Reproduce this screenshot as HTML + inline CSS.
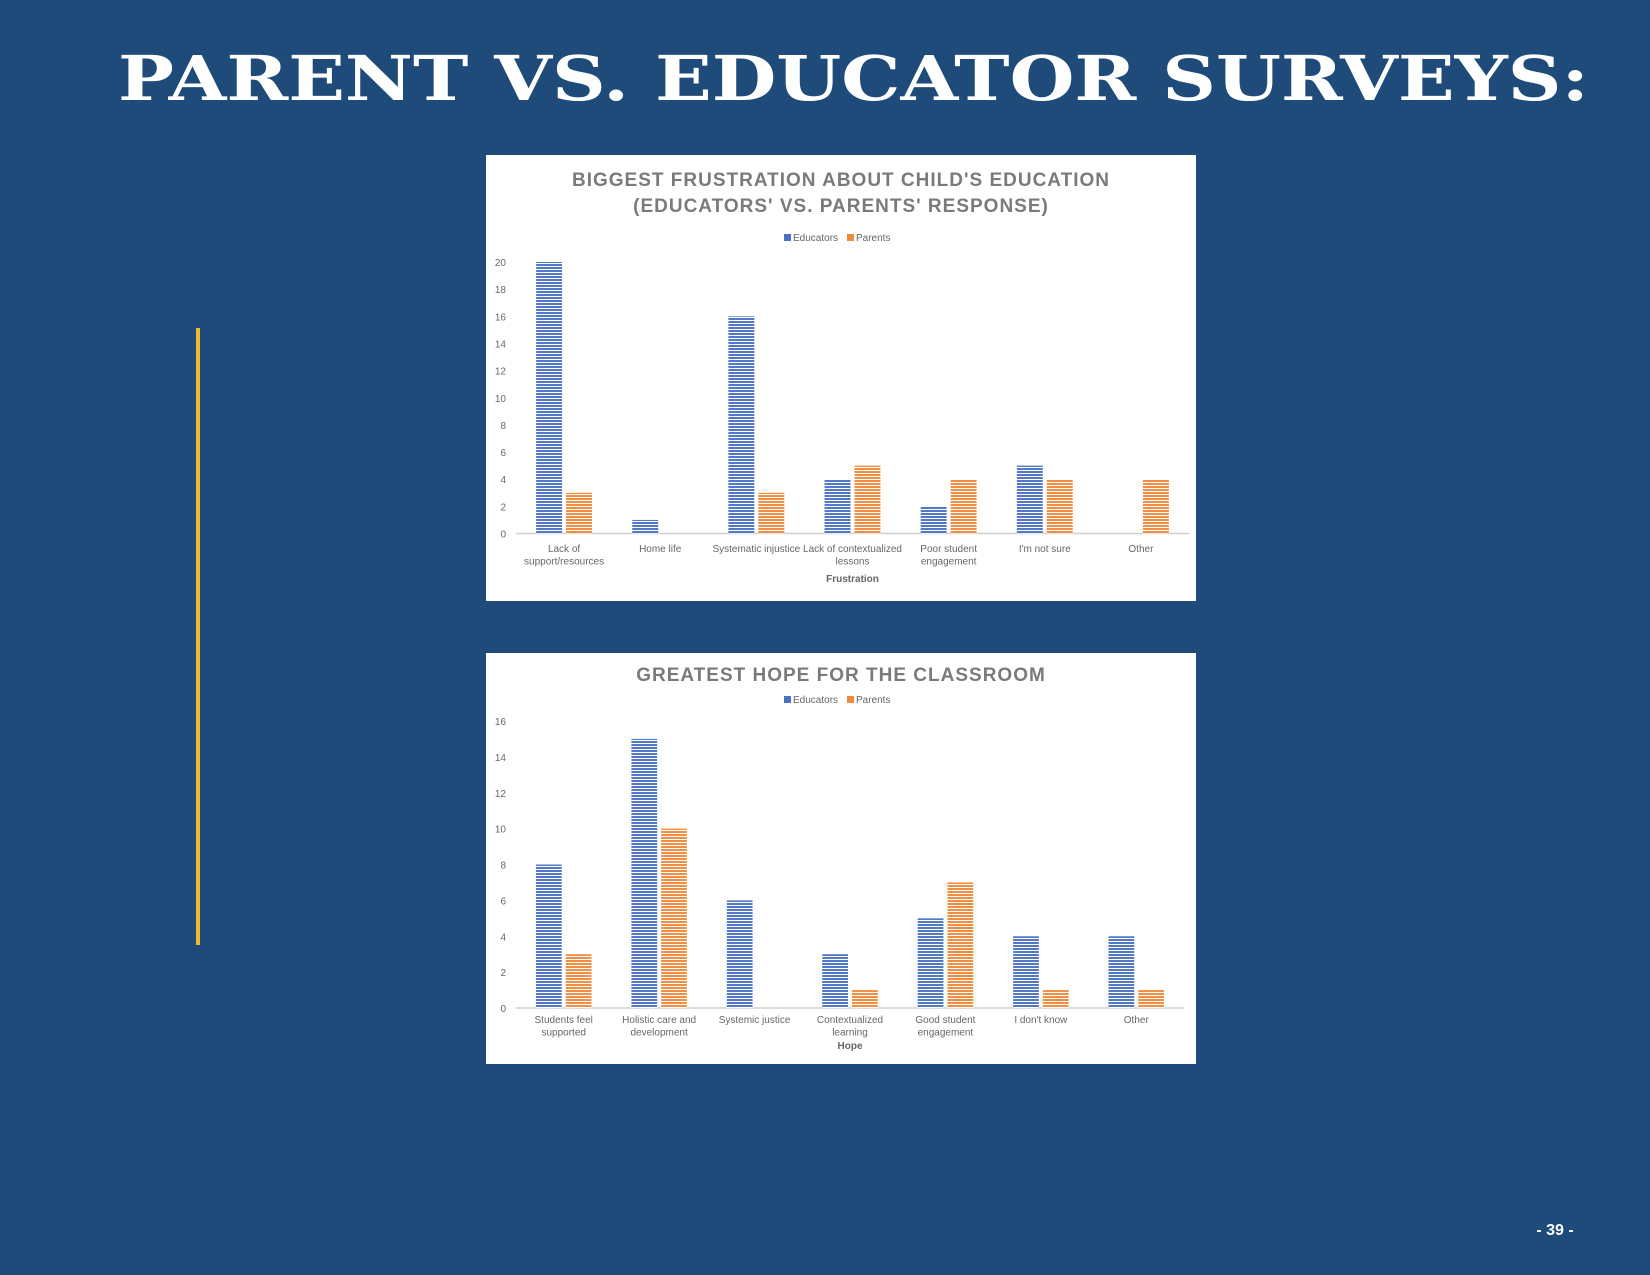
<!DOCTYPE html>
<html><head><meta charset="utf-8"><style>
html,body{margin:0;padding:0;background:#1e4b79;}
svg{display:block;font-family:"Liberation Sans",sans-serif;}
</style></head><body>
<svg id="page" width="1650" height="1275" viewBox="0 0 1650 1275">
<defs>
<pattern id="pb" width="6" height="3" patternUnits="userSpaceOnUse"><rect width="6" height="3" fill="#ffffff"/><rect width="6" height="2" fill="#5479c4"/></pattern>
<pattern id="po" width="6" height="3" patternUnits="userSpaceOnUse"><rect width="6" height="3" fill="#ffffff"/><rect width="6" height="2" fill="#ef8e44"/></pattern>
</defs>
<rect width="1650" height="1275" fill="#1e4b79"/>
<text x="118" y="100" textLength="1471" lengthAdjust="spacingAndGlyphs" fill="#fff" font-family="'DejaVu Serif',serif" font-weight="bold" font-size="62">PARENT VS. EDUCATOR SURVEYS:</text>
<rect x="196" y="328" width="4" height="617" fill="#f5b731"/>
<text x="1555" y="1235" text-anchor="middle" fill="#fff" font-weight="bold" font-size="16">- 39 -</text>
<g id="c1"></g>
<g id="c2"></g>
</svg>
<script>
const cats1 = [["Lack of","support/resources"],["Home life"],["Systematic injustice"],["Lack of contextualized","lessons"],["Poor student","engagement"],["I'm not sure"],["Other"]];
const edu1 = [20,1,16,4,2,5,0];
const par1 = [3,0,3,5,4,4,4];
const ticks1 = [0,2,4,6,8,10,12,14,16,18,20];
const cats2 = [["Students feel","supported"],["Holistic care and","development"],["Systemic justice"],["Contextualized","learning"],["Good student","engagement"],["I don't know"],["Other"]];
const edu2 = [8,15,6,3,5,4,4];
const par2 = [3,10,0,1,7,1,1];
const ticks2 = [0,2,4,6,8,10,12,14,16];
const NS="http://www.w3.org/2000/svg";
function mk(p,tag,a,txt){const e=document.createElementNS(NS,tag);for(const k in a)e.setAttribute(k,a[k]);if(txt!==undefined)e.textContent=txt;p.appendChild(e);return e;}
function chart(g,o){
  const bg=mk(g,'rect',{x:o.bx,y:o.by,width:o.bw,height:o.bh,fill:'#fff'});
  
  
  o.title.forEach((t,i)=>{const e=mk(g,'text',{x:o.bx+o.bw/2,y:o.ty+i*26,'text-anchor':'middle',fill:'#7a7a7a','font-weight':'bold','font-size':19,'letter-spacing':'1'},t);
    
    });
  const lc=o.bx+o.bw/2;
  const l1=mk(g,'rect',{x:lc-57,y:o.ly-4,width:7,height:7,fill:'#4a72c0'});
  
  
  const l1t=mk(g,'text',{x:lc-48,y:o.ly+3,'font-size':10,fill:'#666'},'Educators');
  
  
  const l2=mk(g,'rect',{x:lc+6,y:o.ly-4,width:7,height:7,fill:'#ee8a3c'});
  
  
  const l2t=mk(g,'text',{x:lc+15,y:o.ly+3,'font-size':10,fill:'#666'},'Parents');
  
  
  const y=v=>o.y0-(o.y0-o.yTop)*v/o.max;
  const bandW=(o.x1-o.x0)/o.cats.length;
  o.ticks.forEach(t=>{const e=mk(g,'text',{x:o.x0-10,y:y(t)+4,'text-anchor':'end','font-size':10,fill:'#666'},t);
    
    });
  const ax=mk(g,'line',{x1:o.x0,x2:o.x1,y1:o.y0,y2:o.y0,stroke:'#d0d0d0','stroke-width':1.5});
  
  
  o.cats.forEach((c,i)=>{
    const cx=o.x0+bandW*(i+0.5);
    const bw=bandW*0.27;
    [[o.edu[i],'url(#pb)',cx-bw-2,'bar-educators'],[o.par[i],'url(#po)',cx+2,'bar-parents']].forEach(([v,f,x,n])=>{
      if(v<=0)return;
      const r=mk(g,'rect',{x:x,y:y(v),width:bw,height:o.y0-y(v),fill:f});
      
      
    });
    c.forEach((ln,j)=>{const e=mk(g,'text',{x:cx,y:o.cy+j*12.5,'text-anchor':'middle','font-size':10,fill:'#666'},ln);
      
      });
  });
  const at=mk(g,'text',{x:(o.x0+o.x1)/2,y:o.aty,'text-anchor':'middle','font-size':10,'font-weight':'bold',fill:'#666'},o.axisTitle);
  
  
}
chart(document.getElementById('c1'),{bx:486,by:155,bw:710,bh:446,title:["BIGGEST FRUSTRATION ABOUT CHILD'S EDUCATION","(EDUCATORS' VS. PARENTS' RESPONSE)"],ty:186,ly:238,
  cats:cats1,edu:edu1,par:par1,ticks:ticks1,max:20,y0:533.5,yTop:262,x0:516,x1:1189,cy:552,aty:582,axisTitle:'Frustration'});
chart(document.getElementById('c2'),{bx:486,by:653,bw:710,bh:411,title:["GREATEST HOPE FOR THE CLASSROOM"],ty:681,ly:700,
  cats:cats2,edu:edu2,par:par2,ticks:ticks2,max:16,y0:1008,yTop:721,x0:516,x1:1184,cy:1023,aty:1049,axisTitle:'Hope'});
</script>
</body></html>
